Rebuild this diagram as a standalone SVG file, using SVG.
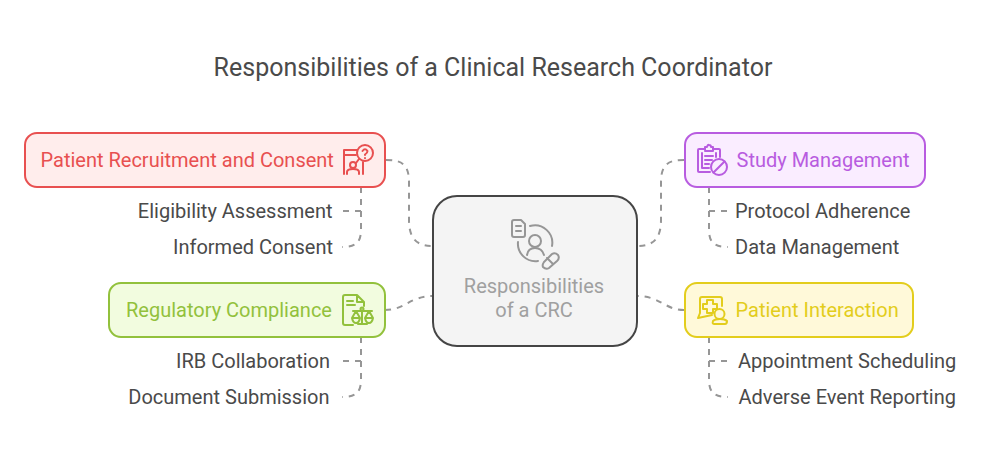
<svg xmlns="http://www.w3.org/2000/svg" width="986" height="459" viewBox="0 0 986 459">
<style>
text{font-family:Roboto,"Liberation Sans",sans-serif}
.t{font-size:20px;fill:#4a4a4a}
.h{font-size:20px}
.m{font-size:20px;fill:#a0a0a0;text-anchor:middle}
.c{fill:none;stroke:#969696;stroke-width:2;stroke-dasharray:6 6}
.i{fill:none;stroke-width:2;stroke-linecap:round;stroke-linejoin:round}
.b{stroke-width:2}
</style>
<rect width="986" height="459" fill="#fff"/>
<text x="493" y="76" text-anchor="middle" font-size="25" fill="#4a4a4a">Responsibilities of a Clinical Research Coordinator</text>
<g id="connectors">
<path class="c" d="M386 160C400 160 409 163 409 182V220C409 240 418 246 433 246"/>
<path class="c" d="M385 310C405 310 410 296 433 296"/>
<path class="c" d="M684 160C670 160 661 163 661 182V220C661 240 652 246 637 246"/>
<path class="c" d="M684 310C665 310 660 296 637 296"/>
<path class="c" d="M361 187V211H343M361 211V230C361 243 355 247 342 247"/>
<path class="c" d="M361 337V361H343M361 361V380C361 393 355 397 342 397"/>
<path class="c" d="M709 187V211H727M709 211V230C709 243 715 247 728 247"/>
<path class="c" d="M709 337V361H727M709 361V380C709 393 715 397 728 397"/>
</g>
<g id="center">
<rect class="b" x="433" y="196" width="204" height="150" rx="24" fill="#f4f4f4" stroke="#454545"/>
<g class="i" stroke="#969696">
<path d="M514 220H521L525 224V235Q525 237 523 237H514Q512 237 512 235V222Q512 220 514 220ZM516 226H521M516 231H521"/>
<circle cx="535" cy="241" r="6"/>
<path d="M527 255Q528 248 535 248Q542 248 544 255"/>
<path d="M530 226A17.500 17.500 0 0 1 552 246M518 242A17.500 17.500 0 0 0 538 261"/>
<path d="M544 262L552 254Q555 252 558 255Q560 258 557 261L549 268Q546 270 543 267Q542 265 544 262ZM547 258L553 264"/>
</g>
<text class="m" x="534" y="293">Responsibilities</text>
<text class="m" x="534" y="317">of a CRC</text>
</g>
<g id="patient-recruitment">
<rect class="b" x="25" y="133" width="360" height="54" rx="12" fill="#ffedec" stroke="#e85050"/>
<text class="h" x="40.500" y="167" fill="#e85050">Patient Recruitment and Consent</text>
<g class="i" stroke="#e85050">
<path d="M357 150H344V174M344 155H356M363 174V162M347 174V172Q347 169 353 169Q359 169 359 172V174"/>
<circle cx="353" cy="165" r="3"/>
<circle cx="365" cy="153" r="8"/>
<path d="M359 159L356 163M362.500 151Q365 147.500 367.500 151Q367.500 153 365 154.500V155M365 158V158.200"/>
</g>
</g>
<g id="eligibility"><text class="t" x="332.500" y="218" text-anchor="end">Eligibility Assessment</text></g>
<g id="informed"><text class="t" x="333" y="254" text-anchor="end">Informed Consent</text></g>
<g id="regulatory">
<rect class="b" x="109" y="283" width="276" height="54" rx="12" fill="#f2fcdf" stroke="#92c13c"/>
<text class="h" x="126" y="317" fill="#92c13c">Regulatory Compliance</text>
<g class="i" stroke="#92c13c">
<path d="M353 325H345Q343 325 343 323V297Q343 295 345 295H357L364 302V306M357 295V302H364M347 301H353M347 305H355"/>
<path d="M362 311V324M358 324H367M353 311H372M356 311L352 318H360ZM352 318Q353 323 356 323Q359 323 360 318M369 311L365 318H373ZM365 318Q366 323 369 323Q372 323 373 318"/>
<circle cx="362" cy="309" r="1.500"/>
</g>
</g>
<g id="irb"><text class="t" x="330" y="368" text-anchor="end">IRB Collaboration</text></g>
<g id="document"><text class="t" x="329.500" y="404" text-anchor="end">Document Submission</text></g>
<g id="study">
<rect class="b" x="685" y="133" width="240" height="54" rx="12" fill="#faedff" stroke="#b85ce0"/>
<text class="h" x="736.500" y="167" fill="#b85ce0">Study Management</text>
<g class="i" stroke="#b85ce0">
<path d="M705 149H699Q698 149 698 150V171Q698 172 699 172H710M713 149H719Q720 149 720 150V157M705 150V147H707Q708 144 709 145Q711 145 711 147H713V151H705M702 153V168H709M716 153V157M705 156H713M705 160H712M705 164H709"/>
<circle cx="719" cy="167" r="8"/>
<path d="M713.500 172.500L724.500 161.500"/>
</g>
</g>
<g id="protocol"><text class="t" x="735" y="218">Protocol Adherence</text></g>
<g id="data"><text class="t" x="735" y="254">Data Management</text></g>
<g id="interaction">
<rect class="b" x="685" y="283" width="228" height="54" rx="12" fill="#fff9d9" stroke="#e3cd1c"/>
<text class="h" x="735.500" y="317" fill="#e3cd1c">Patient Interaction</text>
<g class="i" stroke="#e3cd1c">
<path d="M722 306V299Q722 297 720 297H702Q700 297 700 299V313L698 318L712 315"/>
<path d="M707 300H713V304H717V309H713V313H707V309H703V304H707Z"/>
<circle cx="719.500" cy="314" r="5"/>
<path d="M714 324Q712 324 713 321Q715 319 720 319Q725 319 727 321Q727 324 725 324Z"/>
</g>
</g>
<g id="appointment"><text class="t" x="738" y="368">Appointment Scheduling</text></g>
<g id="adverse"><text class="t" x="738.500" y="404">Adverse Event Reporting</text></g>
</svg>
